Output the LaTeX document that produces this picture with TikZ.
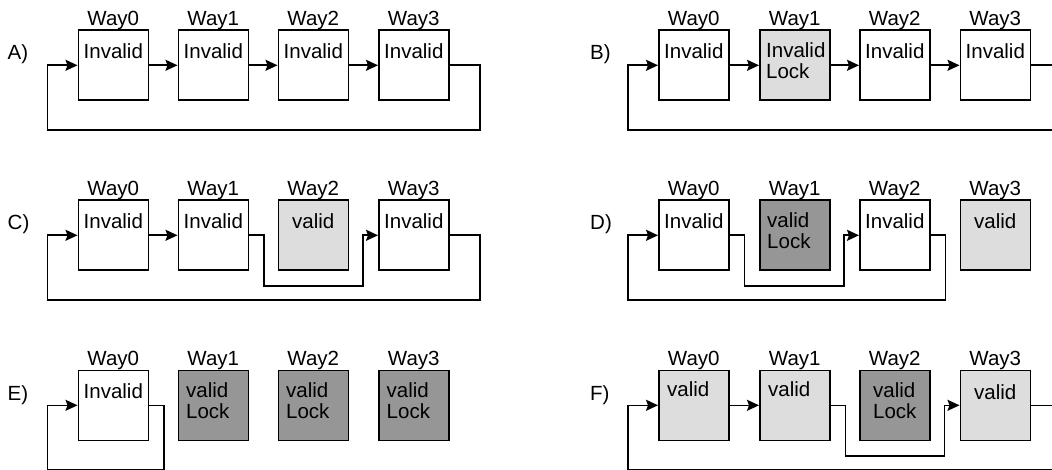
\documentclass[tikz,border=0pt]{standalone}
\usepackage{fontspec}
\setmainfont{Liberation Sans}
\usetikzlibrary{arrows.meta}
\definecolor{lightfill}{HTML}{DDDDDD}
\definecolor{darkfill}{HTML}{969696}
\tikzset{
  way/.style={draw=black, line width=1.6pt, minimum width=70pt, minimum height=70pt, inner sep=0pt, anchor=north west},
  txt/.style={inner sep=0pt, font=\fontsize{20.5}{21.7}\selectfont, align=left},
  conn/.style={line width=1.6pt, -{Stealth[length=12pt, width=11pt, inset=2pt]}},
}
\begin{document}
\begin{tikzpicture}[x=1pt, y=-1pt]
\useasboundingbox (0,0) rectangle (1052,470);
\clip (0,0) rectangle (1052,470);

% ---------- Panel A ----------
\node[txt, anchor=base west] (la) at (7.5,60) {A)};
\node[way] (a0) at (77.5,29.5) {};
\node[way] (a1) at (177.5,29.5) {};
\node[way] (a2) at (277.5,29.5) {};
\node[way] (a3) at (378,29.5) {};
\foreach \i in {0,1,2,3} {
  \node[txt, anchor=base] (a\i w) at ([yshift=4pt]a\i.north) {Way\i};
  \node[txt, anchor=base] (a\i t) at ([yshift=-29.3pt]a\i.north) {Invalid};
}
\draw[conn] (a0.east) -- (a1.west);
\draw[conn] (a1.east) -- (a2.west);
\draw[conn] (a2.east) -- (a3.west);
\draw[conn] (a3.east) -- ++(30.5,0) |- ([xshift=-30pt, yshift=-29pt]a0.south west) |- (a0.west);

% ---------- Panel B ----------
\node[txt, anchor=base west] (lb) at (590,60) {B)};
\node[way] (b0) at (658,29.5) {};
\node[way, fill=lightfill] (b1) at (759,29.5) {};
\node[way] (b2) at (859,29.5) {};
\node[way] (b3) at (959.5,29.5) {};
\foreach \i in {0,1,2,3} {
  \node[txt, anchor=base] (b\i w) at ([yshift=4pt]b\i.north) {Way\i};
}
\node[txt, anchor=base] (b0t) at ([yshift=-29.3pt]b0.north) {Invalid};
\node[txt, anchor=base] (b1t) at ([yshift=-49.3pt, xshift=1pt]b1.north) {Invalid\\Lock};
\node[txt, anchor=base] (b2t) at ([yshift=-29.3pt]b2.north) {Invalid};
\node[txt, anchor=base] (b3t) at ([yshift=-29.3pt]b3.north) {Invalid};
\draw[conn] (b0.east) -- (b1.west);
\draw[conn] (b1.east) -- (b2.west);
\draw[conn] (b2.east) -- (b3.west);
\draw[conn] (b3.east) -- ++(30.5,0) |- ([xshift=-30pt, yshift=-29pt]b0.south west) |- (b0.west);

% ---------- Panel C ----------
\node[txt, anchor=base west] (lc) at (7.5,230) {C)};
\node[way] (c0) at (77.5,199.5) {};
\node[way] (c1) at (177.5,199.5) {};
\node[way, fill=lightfill] (c2) at (277.5,199.5) {};
\node[way] (c3) at (378,199.5) {};
\foreach \i in {0,1,2,3} {
  \node[txt, anchor=base] (c\i w) at ([yshift=4pt]c\i.north) {Way\i};
}
\node[txt, anchor=base] (c0t) at ([yshift=-29.3pt]c0.north) {Invalid};
\node[txt, anchor=base] (c1t) at ([yshift=-29.3pt]c1.north) {Invalid};
\node[txt, anchor=base] (c2t) at ([yshift=-29pt]c2.north) {valid};
\node[txt, anchor=base] (c3t) at ([yshift=-29.3pt]c3.north) {Invalid};
\draw[conn] (c0.east) -- (c1.west);
\draw[conn] (c1.east) -- ++(15,0) |- ([xshift=-15pt, yshift=-15pt]c3.south west) |- (c3.west);
\draw[conn] (c3.east) -- ++(30.5,0) |- ([xshift=-30pt, yshift=-29pt]c0.south west) |- (c0.west);

% ---------- Panel D ----------
\node[txt, anchor=base west] (ld) at (590,230) {D)};
\node[way] (d0) at (658,199.5) {};
\node[way, fill=darkfill] (d1) at (759,199.5) {};
\node[way] (d2) at (859,199.5) {};
\node[way, fill=lightfill] (d3) at (959.5,199.5) {};
\foreach \i in {0,1,2,3} {
  \node[txt, anchor=base] (d\i w) at ([yshift=4pt]d\i.north) {Way\i};
}
\node[txt, anchor=base] (d0t) at ([yshift=-29.3pt]d0.north) {Invalid};
\node[txt, anchor=base west] (d1t) at ([xshift=8pt, yshift=-49.3pt]d1.north west) {valid\\Lock};
\node[txt, anchor=base] (d2t) at ([yshift=-29.3pt]d2.north) {Invalid};
\node[txt, anchor=base] (d3t) at ([yshift=-29pt]d3.north) {valid};
\draw[conn] (d0.east) -- ++(15,0) |- ([xshift=-15pt, yshift=-15pt]d2.south west) |- (d2.west);
\draw[conn] (d2.east) -- ++(15,0) |- ([xshift=-30pt, yshift=-29pt]d0.south west) |- (d0.west);

% ---------- Panel E ----------
\node[txt, anchor=base west] (le) at (7.5,400) {E)};
\node[way] (e0) at (77.5,369.5) {};
\node[way, fill=darkfill] (e1) at (177.5,369.5) {};
\node[way, fill=darkfill] (e2) at (277.5,369.5) {};
\node[way, fill=darkfill] (e3) at (378,369.5) {};
\foreach \i in {0,1,2,3} {
  \node[txt, anchor=base] (e\i w) at ([yshift=4pt]e\i.north) {Way\i};
}
\node[txt, anchor=base] (e0t) at ([yshift=-29.3pt]e0.north) {Invalid};
\foreach \i in {1,2,3} {
  \node[txt, anchor=base west] (e\i t) at ([xshift=8.5pt, yshift=-49.3pt]e\i.north west) {valid\\Lock};
}
\draw[conn] (e0.east) -- ++(15,0) |- ([xshift=-30pt, yshift=-28.5pt]e0.south west) |- (e0.west);

% ---------- Panel F ----------
\node[txt, anchor=base west] (lf) at (590,400) {F)};
\node[way, fill=lightfill] (f0) at (658,369.5) {};
\node[way, fill=lightfill] (f1) at (759,369.5) {};
\node[way, fill=darkfill] (f2) at (859,369.5) {};
\node[way, fill=lightfill] (f3) at (959.5,369.5) {};
\foreach \i in {0,1,2,3} {
  \node[txt, anchor=base] (f\i w) at ([yshift=4pt]f\i.north) {Way\i};
}
\node[txt, anchor=base west] (f0t) at ([xshift=9pt, yshift=-27pt]f0.north west) {valid};
\node[txt, anchor=base west] (f1t) at ([xshift=9pt, yshift=-27pt]f1.north west) {valid};
\node[txt, anchor=base] (f2t) at ([yshift=-49.3pt]f2.north) {valid\\Lock};
\node[txt, anchor=base] (f3t) at ([yshift=-30pt]f3.north) {valid};
\draw[conn] (f0.east) -- (f1.west);
\draw[conn] (f1.east) -- ++(15,0) |- ([xshift=-15pt, yshift=-15pt]f3.south west) |- (f3.west);
\draw[conn] (f3.east) -- ++(30.5,0) |- ([xshift=-30pt, yshift=-28.5pt]f0.south west) |- (f0.west);
\end{tikzpicture}
\end{document}
